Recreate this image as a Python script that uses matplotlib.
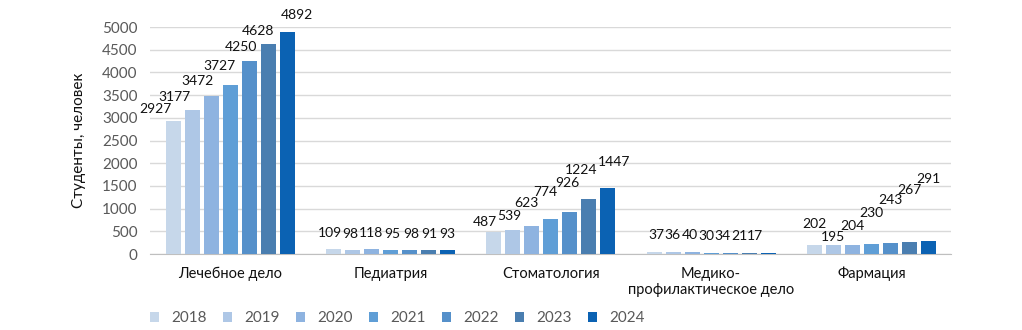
import numpy as np
import matplotlib
matplotlib.use("Agg")
import matplotlib.pyplot as plt

# Data
categories = ["Лечебное дело", "Педиатрия", "Стоматология",
              "Медико-\nпрофилактическое дело", "Фармация"]
years = ["2018", "2019", "2020", "2021", "2022", "2023", "2024"]
v_lech = [2927, 3177, 3472, 3727, 4250, 4628, 4892]
v_ped = [109, 98, 118, 95, 98, 91, 93]
v_stom = [487, 539, 623, 774, 926, 1224, 1447]
v_med = [37, 36, 40, 30, 34, 21, 17]
v_farm = [202, 195, 204, 230, 243, 267, 291]

colors = ["#c6d7ea", "#aec7e6", "#8eb3e0", "#5f9ed6", "#5590ca", "#4a7eb0", "#0b62b3"]

# label offsets in pixels from bar top (manual placement like in the original)
label_dx = [
    [-18, -18, -14, -11, -8, -10, 10],
    [-4, -2, -1, 2, 2, 1, 0],
    [-9, -4, -5, -6, -2, -8, 6],
    [2, -1, -2, -5, -8, -10, -13],
    [0, 0, 0, 0, 0, 0, 0],
]
label_dy = [
    [12, 13, 15, 19, 14, 13, 17],
    [16, 16, 16, 16, 16, 16, 16],
    [10, 14, 23, 27, 29, 29, 26],
    [17, 17, 17, 17, 17, 17, 17],
    [21, 8, 19, 31, 43, 52, 62],
]

values = np.array([v_lech, v_ped, v_stom, v_med, v_farm])

plt.rcParams["font.family"] = ["Lato", "DejaVu Sans"]
fig = plt.figure(figsize=(10.22, 3.30), dpi=100)
ax = fig.add_axes([0.147, 0.230, 0.784, 0.688])

x = np.arange(len(categories))
n = len(years)
step = 0.1185
width = 0.094

for j in range(n):
    pos = x + (j - (n - 1) / 2) * step
    ax.bar(pos, values[:, j], width=width, color=colors[j], label=years[j], zorder=3)
    for i in range(len(categories)):
        ax.annotate(str(values[i, j]), (pos[i], values[i, j]),
                    xytext=(label_dx[i][j], label_dy[i][j]), textcoords="offset pixels",
                    ha="center", va="center", fontsize=10, color="#111111")

ax.set_ylim(0, 5000)
ax.set_xlim(-0.5, len(categories) - 0.5)
ax.set_yticks(range(0, 5001, 500))
ax.tick_params(axis="y", length=0, labelsize=11, labelcolor="#595959", pad=9)
ax.tick_params(axis="x", length=0, labelsize=10.5, labelcolor="#111111", pad=9)
ax.set_xticks(x)
ax.set_xticklabels(categories)
ax.grid(axis="y", color="#d9d9d9", linewidth=1, zorder=0)
for s in ["top", "right", "left"]:
    ax.spines[s].set_visible(False)
ax.spines["bottom"].set_color("#bfbfbf")
ax.set_ylabel("Студенты, человек", fontsize=11, color="#111111", labelpad=12)

leg = fig.legend(loc="center", bbox_to_anchor=(0.389, 0.036), ncol=7, frameon=False,
                 fontsize=11, handlelength=0.6, handleheight=0.6, columnspacing=1.05,
                 handletextpad=0.8)
for t in leg.get_texts():
    t.set_color("#595959")

fig.savefig("out.png", dpi=100)
